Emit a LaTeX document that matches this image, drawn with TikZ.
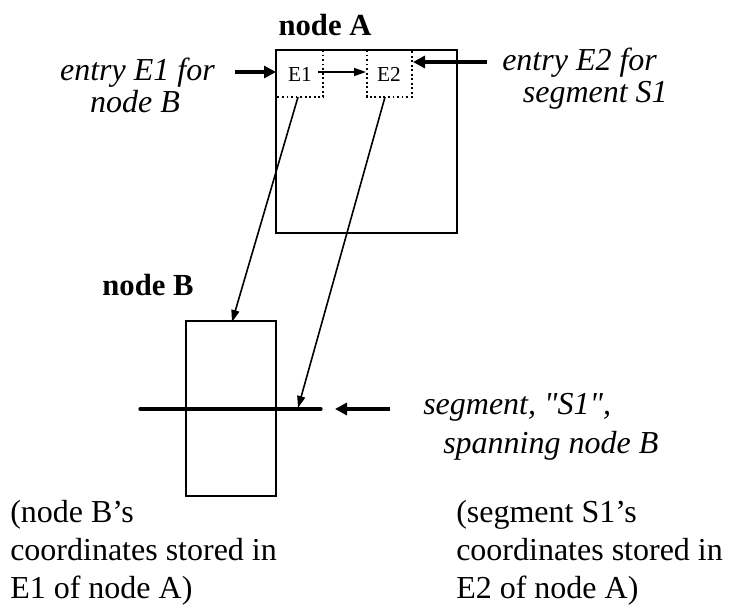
\documentclass[tikz,border=0pt]{standalone}
\usepackage{fontspec}
\setmainfont{Liberation Serif}
\newfontfamily\plainquote{Liberation Serif}[Ligatures=TeXOff]
\usetikzlibrary{arrows.meta}
\newcommand{\sq}{{\plainquote\itshape\symbol{34}}}
\begin{document}
\begin{tikzpicture}[x=0.75pt,y=-0.75pt,
  box/.style={draw,line width=1.5pt},
  dotbox/.style={draw,dotted,line width=1.4pt},
  ptr/.style={line width=1.2pt,-{Triangle[length=9pt,width=6pt]}},
  fat/.style={line width=2.8pt,-{Triangle[length=9pt,width=9pt]}},
  lbl/.style={font=\fontsize{24}{28}\selectfont,inner sep=0pt},
  ilbl/.style={font=\fontsize{24}{28}\selectfont\itshape,inner sep=0pt},
  blbl/.style={font=\fontsize{23}{27}\selectfont\bfseries,inner sep=0pt},
  slbl/.style={font=\fontsize{16}{18}\selectfont,inner sep=0pt}]
\useasboundingbox (0,0) rectangle (729,615);
% node A
\node[blbl,anchor=base] (tA) at (325,35) {node A};
\draw[box] (276,50) rectangle (457,233);
% entries
\draw[dotbox] (323,50) -- (323,97) -- (276,97);
\draw[dotbox] (367,50) -- (367,97) -- (412,97) -- (412,50);
\node[slbl] (E1) at (300,74) {E1};
\node[slbl] (E2) at (389,74) {E2};
\coordinate (E1r) at (318,72);
\coordinate (E2l) at (366,72);
\draw[ptr] (E1r) -- (E2l);
% labels for entries
\node[ilbl,anchor=base east] (lE1a) at (215,80) {entry E1 for};
\node[ilbl,anchor=base] (lE1b) at (135,112) {node B};
\coordinate (aE1s) at (235,72);
\coordinate (aE1e) at (276,72);
\draw[fat] (aE1s) -- (aE1e);
\node[ilbl,anchor=base west] (lE2a) at (502,70) {entry E2 for};
\node[ilbl,anchor=base east] (lE2b) at (668,102) {segment S1};
\coordinate (aE2s) at (487,62);
\coordinate (aE2e) at (413,62);
\draw[fat] (aE2s) -- (aE2e);
% node B
\node[blbl,anchor=base] (tB) at (148,295) {node B};
\draw[box] (186,321) rectangle (276,496);
% segment
\coordinate (sL) at (140,409);
\coordinate (sR) at (321,409);
\draw[line width=2.4pt,line cap=round] (sL) -- (sR);
\coordinate (aSs) at (390,409);
\coordinate (aSe) at (335,409);
\draw[fat] (aSs) -- (aSe);
\node[ilbl,anchor=base west] (lS1) at (423,414) {segment, \sq S1\sq,};
\node[ilbl,anchor=base west] (lS2) at (443,453) {spanning node B};
% pointers
\coordinate (p1s) at (298,97);
\coordinate (p1e) at (232,322);
\draw[ptr] (p1s) -- (p1e);
\coordinate (p2s) at (385,97);
\coordinate (p2e) at (298,408);
\draw[ptr] (p2s) -- (p2e);
% notes
\node[lbl,anchor=base west] (n1) at (10,522) {(node B’s};
\node[lbl,anchor=base west] (n2) at (10,560) {coordinates stored in};
\node[lbl,anchor=base west] (n3) at (10,598) {E1 of node A)};
\node[lbl,anchor=base west] (m1) at (456,522) {(segment S1’s};
\node[lbl,anchor=base west] (m2) at (456,560) {coordinates stored in};
\node[lbl,anchor=base west] (m3) at (456,598) {E2 of node A)};
\end{tikzpicture}
\end{document}
